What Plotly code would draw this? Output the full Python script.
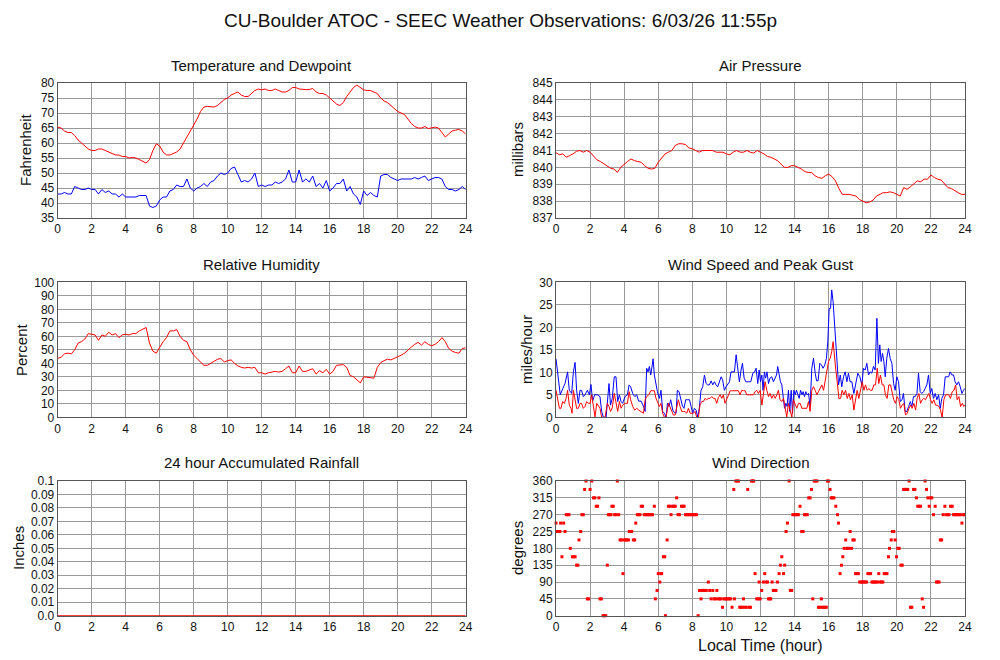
import numpy as np
import plotly.graph_objects as go

# 5-minute obs at roughly 0.2 h spacing
temperature = [65.3, 65, 64, 63.5, 63.5, 62.5, 61, 60, 59, 58, 57.5, 57.5, 58, 58, 57.5, 57, 56.5, 56, 56, 55.5,
               55.5, 55, 55.2, 55, 54.5, 54, 53.3, 54.5, 57.5, 59.7, 59, 57, 56, 56, 56.5, 57, 58, 60, 62, 64,
               65.5, 68, 70.5, 72, 72.2, 72, 72, 72.5, 73.5, 74.5, 75, 76, 76.5, 77, 76, 75.5, 75.5, 76.5, 77.5, 78,
               77.7, 78, 77.5, 77.5, 78, 77.5, 77, 77, 77.5, 78.5, 78.5, 78, 77.8, 77.8, 77.8, 78.2, 77, 76.5, 76.5, 76,
               75, 74, 73, 72.5, 73.5, 75.5, 77.2, 78.5, 79.3, 78.5, 77.7, 77.5, 77.5, 77, 76.5, 75, 74, 73.5, 72.5, 71.5,
               70.5, 70, 69.5, 68, 66.5, 65.5, 65, 65, 65.5, 64.8, 65, 65.3, 65, 63.5, 62, 63, 64, 64.3, 64.5, 64,
               63]
dewpoint = [43, 43, 43.5, 43, 43, 45.5, 45, 44.5, 44.5, 45, 44.5, 44.5, 43, 44.5, 43.5, 44, 43, 43, 42, 43,
            42, 42, 42, 42, 42.5, 42.5, 42.5, 39, 38.5, 39, 41, 42, 42, 44, 44.5, 46, 45.5, 45.5, 48, 45,
            44, 45, 45.5, 46.5, 45.5, 47, 47.5, 49, 50, 49.5, 50, 51.5, 52, 49.5, 47, 47.5, 47, 48, 50, 45.5,
            46, 45.5, 46, 46, 47, 46.5, 47, 48, 51, 47, 47, 51, 47, 48, 47, 49, 45.5, 46.5, 45, 47.5,
            44, 45, 46.5, 46.5, 48, 44, 45.5, 43, 42, 39.5, 44, 42.5, 43.5, 42.5, 42, 49, 49.5, 49.5, 48.5, 48,
            47.5, 48, 48, 48, 48, 48.5, 48, 48.5, 49, 47.5, 48, 48.5, 48.5, 48, 45.5, 44.5, 44.5, 44, 44.5, 45.5,
            44.5]
pressure = [840.87, 840.75, 840.8, 840.6, 840.7, 840.8, 840.95, 841.0, 840.9, 841.0, 840.9, 840.7, 840.45, 840.35,
            840.2, 840.05, 839.95, 839.9, 839.7, 840.0, 840.2, 840.35, 840.5, 840.4, 840.35, 840.3, 840.1, 839.95,
            839.9, 839.95, 840.3, 840.55, 840.8, 840.9, 841.0, 841.3, 841.4, 841.4, 841.35, 841.15, 841.1, 841.0,
            840.9, 841.0, 841.0, 841.0, 841.0, 840.9, 840.9, 840.9, 840.8, 840.75, 840.9, 841.0, 840.9, 840.9,
            841.0, 840.9, 840.85, 841.0, 840.9, 840.8, 840.65, 840.6, 840.5, 840.4, 840.2, 840.0, 840.0, 840.1,
            840.1, 840.0, 839.9, 839.75, 839.7, 839.7, 839.5, 839.4, 839.35, 839.5, 839.6, 839.45, 839.2, 838.75,
            838.4, 838.4, 838.4, 838.35, 838.3, 838.1, 838.0, 837.9, 837.95, 838.05, 838.3, 838.4, 838.5, 838.5,
            838.55, 838.5, 838.4, 838.3, 838.8, 838.7, 838.85, 839.0, 839.2, 839.15, 839.3, 839.3, 839.55, 839.4,
            839.3, 839.25, 839.0, 838.8, 838.75, 838.6, 838.5, 838.4, 838.4]
humidity = [43.7, 44.5, 47, 47.5, 47, 50, 55, 56, 58, 62, 61.5, 61, 57, 61, 60, 63, 61, 62, 59, 61,
            61.5, 61, 62, 62, 64, 65.5, 66.5, 55, 49, 47.5, 52, 56, 59, 64, 64, 65, 60, 57, 56, 50,
            46, 43.5, 40.5, 38.5, 38.5, 40, 41, 43, 43.5, 41, 42, 42.5, 40, 38, 37, 36.5, 37, 36.5, 37, 33,
            33, 32, 33, 33.5, 34, 33.5, 34, 36, 38, 33, 33, 38, 34, 34, 35, 36, 32, 34.5, 33, 35.5,
            32, 34, 38.5, 39, 39, 37, 31, 30, 28, 25.5, 30, 29.5, 29.5, 29, 37, 40.5, 42, 43, 42.5, 43.5,
            45, 46, 47.5, 50, 52, 54, 55.5, 53.5, 56, 54, 53, 54, 56, 59, 56, 51, 49, 48, 47.5, 51,
            51.5]

rain_hours = [0, 6, 12, 18, 24]
rain_inches = [0.0, 0.0, 0.0, 0.0, 0.0]

gust_hours = [0, 0.1, 0.25, 0.4, 0.53, 0.68, 0.78, 0.92, 1.02, 1.12, 1.21, 1.31, 1.41, 1.5, 1.6, 1.7, 1.84, 1.96,
              2.05, 2.15, 2.27, 2.43, 2.58, 2.68, 2.78, 2.94, 3.03, 3.11, 3.2, 3.3, 3.42, 3.52, 3.62, 3.72, 3.82,
              3.91, 4.05, 4.19, 4.29, 4.38, 4.5, 4.62, 4.74, 4.85, 4.99, 5.13, 5.23, 5.32, 5.4, 5.48, 5.56, 5.62,
              5.7, 5.77, 5.87, 5.95, 6.07, 6.16, 6.26, 6.36, 6.46, 6.54, 6.63, 6.73, 6.85, 6.95, 7.05, 7.12, 7.22,
              7.32, 7.42, 7.51, 7.61, 7.71, 7.83, 7.93, 8.02, 8.12, 8.22, 8.32, 8.41, 8.51, 8.61, 8.71, 8.81, 8.9,
              9.0, 9.1, 9.2, 9.3, 9.39, 9.49, 9.59, 9.69, 9.78, 9.88, 9.98, 10.08, 10.18, 10.27, 10.37, 10.47,
              10.57, 10.67, 10.76, 10.86, 10.94, 11.04, 11.14, 11.29, 11.43, 11.55, 11.66, 11.74, 11.84, 11.92,
              12.0, 12.08, 12.15, 12.23, 12.3, 12.38, 12.47, 12.56, 12.66, 12.76, 12.86, 12.94, 13.01, 13.09,
              13.17, 13.25, 13.33, 13.41, 13.49, 13.56, 13.64, 13.72, 13.8, 13.88, 13.96, 14.03, 14.11, 14.19,
              14.27, 14.35, 14.43, 14.5, 14.58, 14.66, 14.74, 14.82, 14.91, 15.01, 15.11, 15.21, 15.29, 15.38,
              15.48, 15.58, 15.67, 15.77, 15.87, 15.95, 16.03, 16.11, 16.18, 16.26, 16.34, 16.42, 16.5, 16.58,
              16.68, 16.77, 16.87, 16.97, 17.07, 17.16, 17.26, 17.36, 17.48, 17.59, 17.71, 17.83, 17.95, 18.04,
              18.14, 18.24, 18.34, 18.43, 18.53, 18.63, 18.73, 18.83, 18.92, 19.0, 19.08, 19.16, 19.24, 19.32,
              19.41, 19.51, 19.61, 19.71, 19.81, 19.9, 20.0, 20.1, 20.2, 20.3, 20.39, 20.49, 20.59, 20.69, 20.79,
              20.88, 20.98, 21.08, 21.18, 21.27, 21.37, 21.47, 21.57, 21.66, 21.76, 21.86, 21.96, 22.05, 22.15,
              22.25, 22.35, 22.45, 22.55, 22.64, 22.74, 22.84, 22.94, 23.04, 23.13, 23.23, 23.33, 23.42, 23.52,
              23.62, 23.72, 23.82, 23.91, 23.98]
gust_mph = [13, 9.4, 5, 6.4, 7.5, 10.1, 6, 5.3, 10.1, 12.2, 6, 3.1, 6, 6, 4.6, 5, 6, 5,
            7.3, 3.6, 5, 5, 4.6, 1.3, 0, 0, 5, 7.5, 2.7, 4.2, 9, 9, 3.5, 5, 3.5,
            3.1, 4.6, 5, 7.2, 6.8, 5.3, 4.6, 5, 3.6, 3.6, 2.5, 1.3, 10.9, 10.1, 11.3, 9.4, 10.9,
            13, 9.4, 7.2, 5.7, 4.2, 6, 1.3, 0.9, 0, 3.1, 2.4, 3.9, 1.6, 1, 0.9, 6, 5.7,
            3.9, 2.5, 2, 3.9, 3.9, 3.9, 2.4, 0.9, 2, 1.6, 0, 2.1, 6, 6.8, 9.4, 7.5, 7.2,
            7.2, 8.1, 7.2, 7.9, 7.2, 6.8, 7.9, 9, 8.3, 6, 6.8, 7.5, 7.9, 10.1, 10.1, 10.1,
            13.9, 10.1, 7.9, 10.5, 12, 8.7, 7.9, 7.9, 7.9, 9.8, 10.1, 10.9, 7.5, 10.5,
            7.9, 9.4, 6, 10.1, 8.7, 10.1, 7.5, 8.7, 9, 7.9, 8.7, 9.4, 11.3, 9,
            7.9, 7.2, 4.6, 2, 3.1, 2.4, 6, 1.3, 6, 0.9, 6, 5, 6, 5,
            4.2, 6, 5, 5.7, 4.6, 5.7, 5, 5.3, 2.4, 10.9, 13.1, 9.8, 8.1, 8.1,
            12, 11.6, 10.9, 11.6, 13.1, 16.8, 24.2, 24.2, 28.3, 25.7, 20.5, 17.6, 10.5, 7.2,
            9.4, 6.8, 9, 10.1, 7.9, 9.8, 7.9, 7.9, 5.3, 7.2, 9.8, 9, 7.2, 10.9,
            10.5, 12, 9.4, 10.1, 9.8, 11.3, 10.5, 22, 12, 16.1, 12.4, 14.2, 12.4, 9,
            13.1, 15.3, 13.1, 12, 7.5, 6, 9, 7.9, 3.5, 3.9, 5.3, 1.3, 1.3, 2.4, 3.5,
            2.4, 4.6, 4.6, 5.3, 9.8, 5.7, 5.3, 5.7, 6.4, 7.2, 9.4, 5.3, 6.4, 4.2,
            5.3, 3.9, 5, 2, 4.2, 5, 9, 9, 9, 10.1, 9.4, 9.4, 7.9, 7.2,
            7.9, 6.8, 5.3, 6, 6.4]

speed_hours = [0, 0.1, 0.2, 0.29, 0.39, 0.49, 0.59, 0.68, 0.78, 0.88, 0.94, 1.02, 1.12, 1.21, 1.31, 1.41, 1.5, 1.6,
               1.7, 1.8, 1.9, 2.0, 2.09, 2.19, 2.29, 2.39, 2.49, 2.58, 2.68, 2.88, 3.01, 3.11, 3.2, 3.3, 3.42, 3.52,
               3.62, 3.72, 3.82, 3.91, 4.05, 4.19, 4.29, 4.38, 4.5, 4.62, 4.74, 4.85, 4.99, 5.13, 5.23, 5.32, 5.44,
               5.56, 5.68, 5.77, 5.87, 5.95, 6.07, 6.16, 6.26, 6.36, 6.46, 6.6, 6.69, 6.79, 6.89, 6.99, 7.08, 7.18,
               7.28, 7.38, 7.48, 7.57, 7.67, 7.77, 7.87, 7.96, 8.06, 8.16, 8.26, 8.36, 8.45, 8.55, 8.65, 8.75, 8.84,
               8.94, 9.04, 9.14, 9.24, 9.33, 9.43, 9.53, 9.63, 9.73, 9.82, 9.92, 10.02, 10.12, 10.22, 10.31, 10.41,
               10.51, 10.61, 10.7, 10.8, 10.9, 11.0, 11.1, 11.19, 11.39, 11.59, 11.68, 11.78, 11.88, 11.98, 12.08,
               12.17, 12.27, 12.37, 12.47, 12.56, 12.66, 12.76, 12.86, 12.96, 13.05, 13.15, 13.25, 13.35, 13.45,
               13.54, 13.64, 13.74, 13.84, 13.93, 14.03, 14.13, 14.23, 14.33, 14.43, 14.52, 14.62, 14.72, 14.82,
               14.91, 15.01, 15.11, 15.21, 15.31, 15.4, 15.5, 15.6, 15.7, 15.79, 15.89, 15.99, 16.09, 16.18, 16.26,
               16.34, 16.42, 16.5, 16.6, 16.7, 16.79, 16.89, 16.99, 17.09, 17.19, 17.28, 17.38, 17.48, 17.57, 17.67,
               17.77, 17.87, 17.97, 18.07, 18.16, 18.26, 18.36, 18.45, 18.55, 18.65, 18.75, 18.85, 18.94, 19.04,
               19.14, 19.24, 19.33, 19.43, 19.53, 19.63, 19.72, 19.82, 19.92, 20.02, 20.12, 20.21, 20.31, 20.41,
               20.51, 20.61, 20.71, 20.81, 20.9, 21.0, 21.1, 21.19, 21.29, 21.39, 21.49, 21.58, 21.68, 21.78, 21.88,
               21.98, 22.07, 22.17, 22.27, 22.37, 22.47, 22.56, 22.66, 22.76, 22.86, 22.96, 23.05, 23.15, 23.25,
               23.35, 23.45, 23.54, 23.64, 23.74, 23.84, 23.93, 23.99]
speed_mph = [6, 3.9, 2, 2, 3.5, 3.1, 4.2, 6, 2.7, 2, 0.9, 6, 4.2, 2, 2, 3.1, 3.1, 2,
             2.4, 3.5, 3.1, 3.1, 5, 2.4, 0.1, 3.1, 2.4, 2, 0, 0, 3.1, 2.4, 1.3, 2.1, 5.3, 3.1,
             1.3, 3.5, 2, 2.7, 3.1, 3.1, 5.7, 3.9, 2.4, 1.6, 2, 1.6, 1.3, 0.9, 3.9, 4.6, 5,
             5.9, 5.9, 5.9, 4.2, 3.5, 2.4, 3.1, 0.9, 0, 0, 3.1, 2.4, 1.3, 0.5, 0.5, 2, 3.9,
             2.4, 1.3, 1.3, 1.3, 0.9, 2, 0.9, 0.9, 0.9, 1.3, 0, 0, 2.7, 3.5, 3.5, 4.2, 3.9,
             4.2, 4.2, 4.6, 4.2, 4.2, 3.1, 4.4, 5, 4.2, 5, 3.1, 4.2, 5, 5.9, 5.9, 5.9,
             5.9, 5.9, 5.9, 5, 6, 5.9, 5.9, 5, 5, 5, 5.7, 6, 5.3, 6, 2.7,
             5.3, 7.9, 6, 4.6, 5.3, 4.2, 5, 4.2, 5, 6, 3.9, 3.5, 4.2, 2.4,
             0.1, 3.1, 1.3, 0, 3.9, 3.1, 2, 3.1, 3.1, 2, 2, 2, 2, 3.5,
             1.3, 6, 6.8, 6, 5, 5.7, 6.4, 7.2, 6, 7.9, 10.5, 12.4, 13.1, 14.6, 16.8,
             13.1, 10.5, 7.9, 4.2, 4.2, 6, 5, 6, 4.2, 5.3, 3.9, 5, 1.6, 3.9, 6,
             4.2, 6, 7.9, 6, 7.2, 6, 6.4, 6, 6, 7.2, 7.2, 10.9, 7.5, 9.4,
             7.2, 7.2, 5, 4.2, 7.2, 7.2, 5.7, 3.9, 3.1, 4.6, 3.9, 2, 2.7, 3.1,
             0.5, 0.9, 2, 2.7, 2, 3.1, 1.6, 4.2, 5.3, 3.1, 3.9, 4.2, 3.9, 4.6, 5.3,
             3.9, 3.1, 3.9, 2.7, 2.7, 2.4, 1.6, 0, 3.9, 5, 5, 5, 4.2, 5.7,
             6, 7.2, 3.9, 4.6, 2.4, 3.1, 2.4, 2.7]

dir_hours = [0.0, 0.08, 0.17, 0.23, 0.27, 0.35, 0.45, 0.53, 0.6, 0.68, 0.76, 0.84, 0.96, 1.04, 1.12, 1.21, 1.28,
             1.35, 1.45, 1.52, 1.6, 1.68, 1.76, 1.84, 1.92, 2.0, 2.1, 2.2, 2.28, 2.36, 2.44, 2.52, 2.58, 2.66,
             2.76, 2.84, 2.92, 3.01, 3.07, 3.15, 3.23, 3.28, 3.36, 3.44, 3.52, 3.6, 3.68, 3.76, 3.84, 3.93, 4.0,
             4.08, 4.16, 4.25, 4.3, 4.38, 4.44, 4.54, 4.62, 4.68, 4.77, 4.85, 4.93, 5.0, 5.08, 5.18, 5.26, 5.34,
             5.42, 5.5, 5.58, 5.66, 5.77, 5.83, 5.93, 6.0, 6.09, 6.15, 6.2, 6.3, 6.38, 6.42, 6.52, 6.6, 6.68,
             6.75, 6.84, 6.92, 7.0, 7.08, 7.16, 7.24, 7.36, 7.44, 7.52, 7.6, 7.68, 7.76, 7.84, 7.92, 8.0, 8.08,
             8.16, 8.24, 8.34, 8.42, 8.51, 8.58, 8.66, 8.74, 8.82, 8.94, 9.02, 9.1, 9.2, 9.28, 9.36, 9.44, 9.52,
             9.6, 9.68, 9.77, 9.85, 9.93, 10.01, 10.09, 10.17, 10.25, 10.33, 10.43, 10.47, 10.55, 10.63, 10.71,
             10.78, 10.86, 10.94, 11.0, 11.08, 11.16, 11.25, 11.33, 11.41, 11.47, 11.55, 11.6, 11.68, 11.78,
             11.86, 11.92, 11.98, 12.07, 12.17, 12.25, 12.33, 12.41, 12.47, 12.55, 12.6, 12.68, 12.75, 12.83,
             12.91, 12.99, 13.09, 13.17, 13.25, 13.35, 13.42, 13.5, 13.58, 13.68, 13.75, 13.83, 13.9, 13.98,
             14.06, 14.14, 14.22, 14.32, 14.42, 14.5, 14.58, 14.66, 14.74, 14.83, 14.91, 14.99, 15.07, 15.15,
             15.23, 15.32, 15.4, 15.48, 15.57, 15.62, 15.7, 15.78, 15.86, 15.92, 16.0, 16.08, 16.15, 16.23,
             16.31, 16.42, 16.52, 16.58, 16.67, 16.75, 16.83, 16.91, 17.0, 17.08, 17.16, 17.26, 17.34, 17.42,
             17.5, 17.58, 17.66, 17.74, 17.82, 17.9, 17.98, 18.06, 18.14, 18.22, 18.3, 18.38, 18.46, 18.54,
             18.62, 18.7, 18.78, 18.86, 18.94, 19.02, 19.1, 19.18, 19.26, 19.34, 19.42, 19.51, 19.57, 19.67,
             19.74, 19.82, 19.9, 19.98, 20.06, 20.14, 20.24, 20.32, 20.4, 20.48, 20.56, 20.64, 20.72, 20.8,
             20.88, 20.98, 21.06, 21.15, 21.23, 21.31, 21.39, 21.49, 21.57, 21.66, 21.74, 21.82, 21.9, 21.98,
             22.05, 22.15, 22.25, 22.32, 22.4, 22.48, 22.55, 22.63, 22.72, 22.82, 22.9, 22.98, 23.06, 23.15,
             23.25, 23.33, 23.41, 23.49, 23.57, 23.65, 23.73, 23.82, 23.9, 23.96]
dir_degrees = [247.5, 225, 225, 225, 247.5, 157.5, 247.5, 225, 270, 270, 270, 180, 157.5, 157.5, 157.5, 135, 135,
               202.5, 225, 270, 270, 337.5, 360, 45, 45, 337.5, 360, 315, 315, 292.5, 292.5, 315, 45, 45,
               0, 0, 0, 135, 270, 270, 270, 292.5, 292.5, 270, 270, 360, 270, 202.5, 202.5, 112.5, 202.5,
               202.5, 202.5, 202.5, 225, 225, 225, 202.5, 202.5, 247.5, 270, 270, 270, 292.5, 292.5, 270, 270, 270,
               270, 270, 270, 270, 292.5, 45, 67.5, 112.5, 90, 112.5, 112.5, 157.5, 157.5, 0, 202.5, 292.5, 292.5,
               270, 292.5, 292.5, 292.5, 315, 270, 270, 292.5, 292.5, 292.5, 270, 270, 270, 270, 270, 270, 270,
               270, 270, 0, 67.5, 45, 67.5, 67.5, 67.5, 67.5, 90, 67.5, 45, 67.5, 45, 45, 67.5, 45,
               45, 45, 22.5, 45, 45, 45, 45, 45, 45, 22.5, 337.5, 45, 360, 360, 360,
               22.5, 22.5, 22.5, 45, 22.5, 22.5, 337.5, 22.5, 22.5, 360, 360, 360, 112.5, 45,
               45, 90, 45, 67.5, 90, 112.5, 90, 90, 45, 45, 45, 90, 67.5, 67.5,
               67.5, 90, 112.5, 135, 157.5, 112.5, 135, 225, 247.5, 360, 67.5, 67.5, 270, 270,
               270, 270, 270, 292.5, 225, 225, 270, 270, 270, 315, 315, 337.5, 45, 360,
               360, 360, 22.5, 22.5, 45, 22.5, 22.5, 22.5, 22.5, 360, 360, 337.5, 315, 315,
               315, 292.5, 270, 247.5, 112.5, 135, 157.5, 180, 202.5, 180, 180, 225, 180, 202.5,
               202.5, 112.5, 112.5, 112.5, 90, 90, 90, 90, 90, 90, 112.5, 112.5, 112.5, 90,
               90, 90, 90, 90, 112.5, 90, 90, 90, 112.5, 112.5, 112.5, 157.5, 180, 202.5,
               225, 225, 202.5, 157.5, 180, 180, 135, 135, 337.5, 337.5, 337.5, 337.5, 360, 22.5,
               22.5, 337.5, 337.5, 315, 292.5, 292.5, 292.5, 45, 22.5, 360, 337.5, 315, 292.5, 315,
               315, 270, 292.5, 90, 90, 90, 202.5, 202.5, 270, 292.5, 270, 270, 270, 292.5,
               292.5, 270, 270, 270, 270, 270, 270, 247.5, 270, 270]

hours = np.linspace(0, 24, len(temperature))

RED = "#ff0000"
BLUE = "#0000ff"
FONT = "Liberation Sans, Arial, sans-serif"

# the page body adds an 8px offset, so positions are taken from the
# reference in pixels and shifted back by that amount
W, H, OFF = 1000, 660, 8


def px(x):
    return (x - OFF) / W


def py(y):
    return 1 - (y - OFF) / H


LEFT = [px(57.7), px(465.7)]
RIGHT = [px(556), px(965)]
ROW1 = [py(218), py(83)]
ROW2 = [py(417.3), py(282.3)]
ROW3 = [py(615.7), py(481)]

fig = go.Figure()

panels = [
    # xaxis, yaxis, xdomain, ydomain, yrange, tickvals, ticktext
    ("x", "y", LEFT, ROW1, [35, 80], list(range(35, 81, 5)), None),
    ("x2", "y2", RIGHT, ROW1, [837, 845], list(range(837, 846)), None),
    ("x3", "y3", LEFT, ROW2, [0, 100], list(range(0, 101, 10)), None),
    ("x4", "y4", RIGHT, ROW2, [0, 30], list(range(0, 31, 5)), None),
    ("x5", "y5", LEFT, ROW3, [0, 0.1],
     [i / 100 for i in range(11)], ["0.0"] + ["0.0%d" % i for i in range(1, 10)] + ["0.1"]),
    ("x6", "y6", RIGHT, ROW3, [0, 360], list(range(0, 361, 45)), None),
]

line_kw = dict(mode="lines", showlegend=False, hoverinfo="skip")
fig.add_trace(go.Scatter(x=hours, y=temperature, line=dict(color=RED, width=1), xaxis="x", yaxis="y", **line_kw))
fig.add_trace(go.Scatter(x=hours, y=dewpoint, line=dict(color=BLUE, width=1), xaxis="x", yaxis="y", **line_kw))
fig.add_trace(go.Scatter(x=hours, y=pressure, line=dict(color=RED, width=1), xaxis="x2", yaxis="y2", **line_kw))
fig.add_trace(go.Scatter(x=hours, y=humidity, line=dict(color=RED, width=1), xaxis="x3", yaxis="y3", **line_kw))
fig.add_trace(go.Scatter(x=gust_hours, y=gust_mph, line=dict(color=BLUE, width=1), xaxis="x4", yaxis="y4", **line_kw))
fig.add_trace(go.Scatter(x=speed_hours, y=speed_mph, line=dict(color=RED, width=1), xaxis="x4", yaxis="y4", **line_kw))
fig.add_trace(go.Scatter(x=rain_hours, y=rain_inches, line=dict(color=RED, width=1.5), xaxis="x5", yaxis="y5",
                         cliponaxis=False, **line_kw))
fig.add_trace(go.Scatter(x=dir_hours, y=dir_degrees, mode="markers", showlegend=False, hoverinfo="skip",
                         marker=dict(symbol="square", size=3, color=RED, line=dict(width=0)),
                         cliponaxis=False, xaxis="x6", yaxis="y6"))

axis_style = dict(showgrid=True, gridcolor="#9a9a9a", gridwidth=1, zeroline=False, automargin=False,
                  showline=True, linecolor="#555555", linewidth=1, mirror=True,
                  ticks="", tickfont=dict(family=FONT, size=12, color="#111111"))

layout_axes = {}
for xa, ya, xdom, ydom, yrng, tv, tt in panels:
    xkey = "xaxis" if xa == "x" else "xaxis" + xa[1:]
    ykey = "yaxis" if ya == "y" else "yaxis" + ya[1:]
    layout_axes[xkey] = dict(domain=xdom, anchor=ya, range=[0, 24], tickvals=list(range(0, 25, 2)), **axis_style)
    yax = dict(domain=ydom, anchor=xa, range=yrng, tickvals=tv, **axis_style)
    if tt:
        yax["ticktext"] = tt
    layout_axes[ykey] = yax

fig.update_layout(**layout_axes)

annotations = []


def add_text(text, x, y, size, angle=0):
    annotations.append(dict(text=text, x=px(x), y=py(y), xref="paper", yref="paper", showarrow=False,
                            xanchor="center", yanchor="middle", textangle=angle,
                            font=dict(family=FONT, size=size, color="#111111")))


add_text("CU-Boulder ATOC - SEEC Weather Observations: 6/03/26 11:55p", 500, 21, 19)
add_text("Temperature and Dewpoint", 261.7, 65, 15)
add_text("Air Pressure", 760.5, 65, 15)
add_text("Relative Humidity", 261.7, 264, 15)
add_text("Wind Speed and Peak Gust", 760.5, 264, 15)
add_text("24 hour Accumulated Rainfall", 261.7, 462, 15)
add_text("Wind Direction", 760.5, 462, 15)
add_text("Local Time (hour)", 760.5, 645, 16)

add_text("Fahrenheit", 26, 150, 15, -90)
add_text("millibars", 518, 150, 15, -90)
add_text("Percent", 21, 350, 15, -90)
add_text("miles/hour", 526, 350, 15, -90)
add_text("Inches", 18, 548, 15, -90)
add_text("degrees", 517, 548, 15, -90)

fig.update_layout(
    width=W, height=H, autosize=False,
    margin=dict(l=0, r=0, t=0, b=0),
    paper_bgcolor="white", plot_bgcolor="white",
    annotations=annotations,
    showlegend=False,
)

fig.write_html("out.html")
